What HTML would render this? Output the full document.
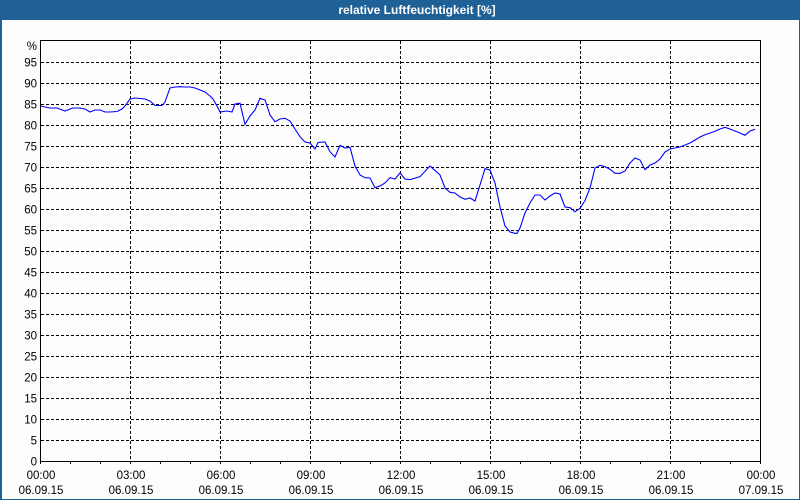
<!DOCTYPE html>
<html><head><meta charset="utf-8"><style>
html,body{margin:0;padding:0;background:#fcfdfc;}
svg{display:block;}
text{font-family:"Liberation Sans","DejaVu Sans",sans-serif;}
</style></head><body>
<svg width="800" height="500" viewBox="0 0 800 500" xmlns="http://www.w3.org/2000/svg">
<rect x="0" y="0" width="800" height="500" fill="#fcfdfc"/>
<rect x="0" y="0" width="800" height="20" fill="#1f6096"/>
<rect x="0" y="0" width="2" height="500" fill="#1f6096"/>
<rect x="799" y="0" width="1" height="500" fill="#1f6096"/>
<rect x="0" y="499" width="800" height="1" fill="#1f6096"/>
<text x="417" y="14" fill="#ffffff" font-size="12" font-weight="bold" text-anchor="middle">relative Luftfeuchtigkeit [%]</text>

<g stroke="#000" stroke-width="1" stroke-dasharray="3,2" shape-rendering="crispEdges" fill="none">
<path d="M41 440.5H760M41 419.5H760M41 398.5H760M41 377.5H760M41 356.5H760M41 335.5H760M41 314.5H760M41 293.5H760M41 272.5H760M41 251.5H760M41 230.5H760M41 209.5H760M41 188.5H760M41 167.5H760M41 146.5H760M41 125.5H760M41 104.5H760M41 83.5H760M41 62.5H760"/>
<path d="M130.5 41V464M220.5 41V464M310.5 41V464M400.5 41V464M490.5 41V464M580.5 41V464M670.5 41V464"/>
</g>
<g stroke="#000" stroke-width="1" shape-rendering="crispEdges" fill="none">
<rect x="40.5" y="40.5" width="720" height="421"/>
<path d="M40.5 461V464M70.5 461V464M100.5 461V464M160.5 461V464M190.5 461V464M250.5 461V464M280.5 461V464M340.5 461V464M370.5 461V464M430.5 461V464M460.5 461V464M520.5 461V464M550.5 461V464M610.5 461V464M640.5 461V464M700.5 461V464M730.5 461V464M760.5 461V464"/>
</g>

<polyline fill="none" stroke="#0000ff" stroke-width="1.1" points="41,106 45,107 50,108 57,108 65,111 70,109 73,108 80,108 85,109 90,112 95,110 100,110 105,112 110,112 117,111.5 122,109 125,106 130,99 135,98 145,99 150,101 155,105.5 162,105.5 165,102 170,88 175,87 180,86.7 185,87 190,87 195,88 200,90 205,92 210,96 213,99 217,106 220,112 227,111 232,112 235,104 240,103.3 245,124.3 250,116 255,110 260,98.3 265,100 270,115 275,121.7 280,119 285,118.3 290,121 295,129 300,136.7 305,142 310,143 315,149 318,142.5 325,142 330,151.7 335,157 340,145.3 345,148 350,147.3 355,166 360,175 365,177.7 370,178 375,187.7 380,186 385,183 390,177.7 395,179 400,173 405,179 410,179.7 420,176.7 430,166 440,175 445,188 450,192.3 455,193 460,197 465,199.3 470,198 475,201 480,185 485,168.7 490,170 495,183 500,207 505,226 510,232 515,233.3 517,233.3 520,228 525,213 530,203 535,195 540,195 545,200 550,196 555,193 560,194 565,207 570,207.7 575,211.7 580,208.5 585,200.5 590,188 595,168 600,165.3 605,166.7 610,169.2 615,173.3 620,173.3 625,171 630,163 635,158 640,160 645,169.7 650,165 655,163 660,159 665,152 670,149 675,148 680,147 685,145 690,143 695,140 700,137 705,134.7 710,133 715,131.3 720,129 725,127.3 730,129 735,131 740,133 745,135.3 750,131 755,129.3"/>

<g font-size="11.5" fill="#000" text-anchor="end">
<text x="37" y="50">%</text>
<text x="37" y="66.5">95</text>
<text x="37" y="87.5">90</text>
<text x="37" y="108.5">85</text>
<text x="37" y="129.5">80</text>
<text x="37" y="150.5">75</text>
<text x="37" y="171.5">70</text>
<text x="37" y="192.5">65</text>
<text x="37" y="213.5">60</text>
<text x="37" y="234.5">55</text>
<text x="37" y="255.5">50</text>
<text x="37" y="276.5">45</text>
<text x="37" y="297.5">40</text>
<text x="37" y="318.5">35</text>
<text x="37" y="339.5">30</text>
<text x="37" y="360.5">25</text>
<text x="37" y="381.5">20</text>
<text x="37" y="402.5">15</text>
<text x="37" y="423.5">10</text>
<text x="37" y="444.5">5</text>
<text x="37" y="465.5">0</text>
</g>
<g font-size="11.5" fill="#000" text-anchor="middle">
<text x="41" y="479">00:00</text><text x="41" y="494">06.09.15</text>
<text x="131" y="479">03:00</text><text x="131" y="494">06.09.15</text>
<text x="221" y="479">06:00</text><text x="221" y="494">06.09.15</text>
<text x="311" y="479">09:00</text><text x="311" y="494">06.09.15</text>
<text x="401" y="479">12:00</text><text x="401" y="494">06.09.15</text>
<text x="491" y="479">15:00</text><text x="491" y="494">06.09.15</text>
<text x="581" y="479">18:00</text><text x="581" y="494">06.09.15</text>
<text x="671" y="479">21:00</text><text x="671" y="494">06.09.15</text>
<text x="761" y="479">00:00</text><text x="761" y="494">07.09.15</text>
</g>
</svg>
</body></html>
